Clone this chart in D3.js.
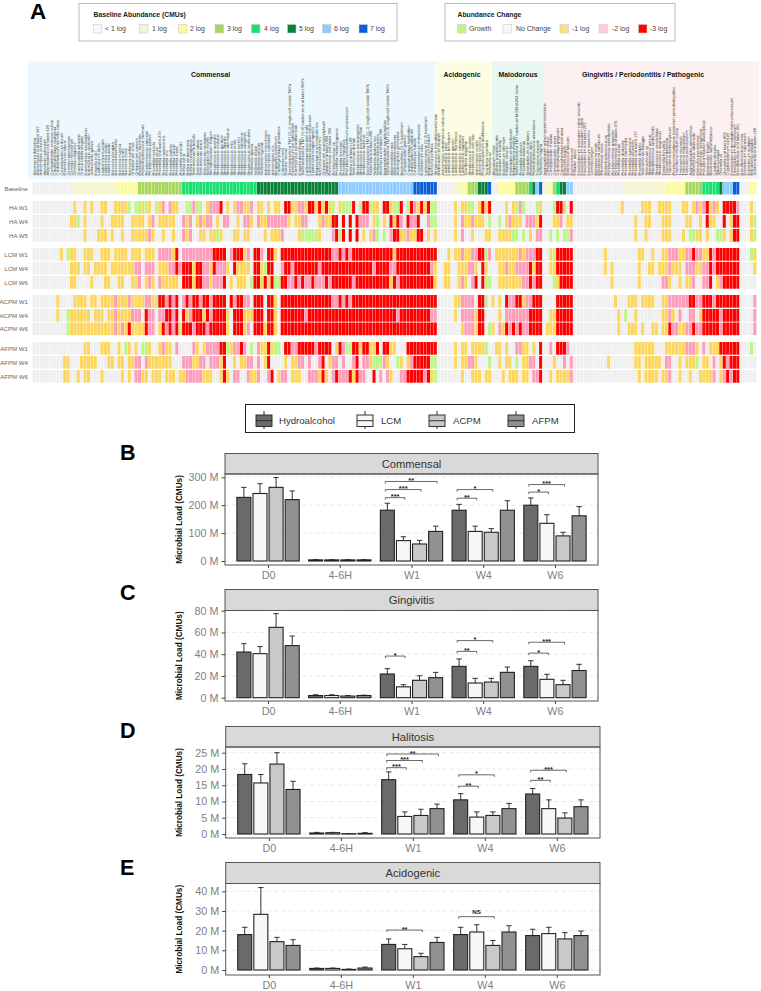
<!DOCTYPE html>
<meta charset="utf-8" />
<script src="https://d3js.org/d3.v7.min.js"></script>
<style>
  body { margin: 0; background: #fff; }
  text { font-family: "Liberation Sans", Arial, sans-serif; }
  .taxa text { text-rendering: geometricPrecision; }
</style>
<body>
<svg id="chart" width="761" height="991"></svg>
<script>
// ---- heatmap taxa, one list per group
const commensalTaxa = [
  "Abiotrophia defectiva","Actinomyces oral taxon 347","Actinomyces johnsonii","Atopobium parvulum","Alloprevotella oral taxon 429","Campylobacter concisus subsp","Capnocytophaga sputigena","Cardiobacterium hominis subsp","Corynebacterium durum","Eikenella corrodens",
  "Gemella haemolysans","Gemella morbillorum","Gemella sanguinis","Granulicatella adiacens","Granulicatella elegans","Haemophilus haemolyticus","Haemophilus sputorum","Johnsonella ignava","Kingella oralis","Lautropia mirabilis",
  "Leptotrichia buccalis","Leptotrichia shahii","Leptotrichia wadei","Neisseria elongata","Neisseria flavescens","Neisseria mucosa","Neisseria oralis","Neisseria sicca","Neisseria subflava","Oribacterium sinus",
  "Oribacterium parvum","Peptoniphilus lacrimalis","Peptostreptococcus stomatis","Porphyromonas catoniae","Porphyromonas pasteri","Prevotella histicola","Prevotella jejuni","Prevotella oral taxon 274","Prevotella nanceiensis","Prevotella oris",
  "Prevotella pallens","Prevotella salivae","Prevotella shahii","Prevotella veroralis","Rothia aeria","Rothia dentocariosa","Rothia mucilaginosa","Selenomonas artemidis","Selenomonas infelix","Selenomonas noxia",
  "Selenomonas sputigena","Solobacterium moorei","Stomatobaculum longum","Streptococcus australis","Streptococcus cristatus","Streptococcus gordonii","Streptococcus infantis","Streptococcus intermedius","Streptococcus mitis","Streptococcus oralis",
  "Streptococcus peroris","Streptococcus salivarius","Streptococcus sanguinis","Streptococcus vestibularis","Veillonella atypica","Veillonella dispar","Veillonella parvula","Veillonella rogosae","Actinomyces massiliensis","Actinomyces naeslundii",
  "Actinomyces oris","Bergeyella zoohelcum","Capnocytophaga granulosa","Catonella morbi","Dialister invisus","Saccharibacteria TM7 [G-1] single-cell isolate TM7a","Fusobacterium periodonticum","Haemophilus parainfluenzae","Kingella denitrificans","Saccharibacteria TM7 [G-5] bacterium oral taxon TM7c",
  "Lachnoanaerobaculum orale","Lachnoanaerobaculum saburreum","Leptotrichia hongkongensis","Megasphaera micronuciformis","Neisseria bacilliformis","Oribacterium asaccharolyticum","Ottowia oral taxon 894","Parvimonas oral taxon 393","Porphyromonas sp","Prevotella melaninogenica",
  "Prevotella loescheii","Prevotella maculosa","Pseudopropionibacterium propionicum","Rothia oral taxon 188","Selenomonas dianae","Streptococcus parasanguinis","Streptococcus pneumoniae","Streptococcus lactarius","Saccharibacteria TM7 [G-1] single-cell isolate TM7b","Tannerella oral taxon 286",
  "Veillonella denticariosi","Veillonella tobetsuensis","Abiotrophia oral taxon 389","Aggregatibacter paraphrophilus","Saccharibacteria TM7 [G-3] single-cell isolate TM7c","Alloprevotella rava","Alloprevotella tannerae","Anaeroglobus geminatus","Bacteroidetes [G-7] bacterium","Campylobacter gracilis",
  "Capnocytophaga leadbetteri","Cardiobacterium valvarum","Centipeda periodontii","Corynebacterium matruchotii","Eubacterium sulci","Lachnospiraceae [G-3] bacterium","Mogibacterium timidum","Neisseria perflava","Streptococcus pseudopneumoniae"
];
const acidogenicTaxa = [
  "Bifidobacterium dentium","Actinomyces odontolyticus subsp oral","Lactobacillus casei","Lactobacillus fermentum","Lactobacillus gasseri","Lactobacillus rhamnosus","Lactobacillus salivarius","Lactobacillus vaginalis","Scardovia wiggsiae","Streptococcus mutans",
  "Streptococcus sobrinus","Actinomyces israelii","Actinomyces viscosus","Propionibacterium acidifaciens","Scardovia inopinata","Veillonella sp"
];
const malodorousTaxa = [
  "Atopobium rimae","Dialister pneumosintes","Eubacterium brachy","Eubacterium infirmum","Filifactor villosus","Fretibacterium fastidiosum","Megasphaera elsdenii","Saccharibacteria TM7 bacterium MGEHA204 clone","Prevotella oulorum","Prevotella tannerae",
  "Solobacterium oral taxon","Peptoniphilus harei","Peptostreptococcus anaerobius","Treponema vincentii","Veillonella magna"
];
const pathogenTaxa = [
  "Aggregatibacter actinomycetemcomitans","Campylobacter rectus","Campylobacter showae","Campylobacter curvus","Capnocytophaga gingivalis","Capnocytophaga ochracea","Eikenella exigua","Enterococcus faecalis","Escherichia coli","Filifactor alocis",
  "Fusobacterium nucleatum subsp vincentii","Fusobacterium nucleatum subsp","Fusobacterium oral taxon 203","Fusobacterium naviforme","Gemella bergeri","Mycoplasma orale","Mycoplasma salivarium","Parvimonas micra","Peptostreptococcus sp","Porphyromonas endodontalis",
  "Porphyromonas gingivalis","Porphyromonas oral taxon 279","Prevotella buccae","Prevotella denticola","Prevotella intermedia","Prevotella nigrescens","Prevotella pleuritidis","Prevotella oral taxon 137","Prevotella dentalis","Selenomonas flueggei",
  "Selenomonas sp","Staphylococcus aureus","Staphylococcus epidermidis","Streptococcus constellatus","Streptococcus anginosus","Tannerella forsythia","Treponema denticola","Treponema lecithinolyticum","Porphyromonadaceae bacterium periodontopathic","Treponema medium subsp",
  "Treponema socranskii","Treponema maltophilum","Treponema pectinovorum","Aggregatibacter aphrophilus","Haemophilus influenzae","Klebsiella pneumoniae","Pseudomonas aeruginosa","Pseudoramibacter alactolyticus","Bacteroides fragilis","Bacteroides heparinolyticus",
  "Candida albicans","Slackia exigua","Olsenella uli","Olsenella oral taxon 809","Cryptobacterium curtum","Fusobacterium gonidiaformans propionicum","Fusobacterium necrophorum","Desulfobulbus oral taxon 041","Desulfomicrobium orale","Eubacterium saphenum",
  "Eubacterium nodatum","Mitsuokella jalaludinii","Johnsonella oral taxon 166"
];

// ---- heatmap rows, written as column runs "first-last:code", empty columns have no change
const baselineRow = "0-11:0,12-24:1,25-30:2,31-43:3,44-65:4,66-89:5,90-111:6,112-118:7,119-123:0,124-125:1,126-127:2,128-130:3,131-133:5,134:7,135-136:0,137-141:2,142-145:3,146:4,147:5,148:6,149:7,150-151:1,152:2,153:3,154:4,155-156:5,157-158:6,159-173:0,174-185:1,186-191:2,192-196:3,197-201:4,202:5,203-205:6,206-207:7,208-210:0,211-212:2";

const rowNames = ["HA W1","HA W4","HA W5","LCM W1","LCM W4","LCM W6","ACPM W1","ACPM W4","ACPM W6","AFPM W1","AFPM W4","AFPM W6"];
const haW1 = "12:a,15:a,17:a,20-21:a,24-27:a,28:g,30-31:g,32:a,33:g,34:a,36:g,37:a,38:b,40:b,41-42:a,45-46:g,47:b,48-49:g,51:a,52-54:b,55:c,57:a,59:a,60-61:b,62-63:a,64:b,66-67:a,69:a,71-72:a,74-75:c,76-77:a,78-79:b,80:a,81-82:c,83:a,84:c,85:a,86:c,87:a,88:g,90:a,91-93:g,94:c,96:g,97-98:c,99:g,100-101:a,103-104:c,105:a,106-107:g,108:c,110:g,111:c,112:b,113:a,114:c,115:a,116:c,117-118:g,124:a,126-127:a,128-129:g,131:a,132:c,133:a,134:c,139:a,141:a,142:g,143:b,144:g,148:g,149:a,153:g,154-155:c,156:a,158:c,173:a,179-181:a,184-187:a,191-192:a,194:a,195:b,196:a,197:b,198:c,199:a,200:b,201:a,203-206:c,207:b,211:a";
const haW4 = "11-12:a,13:g,15:a,20:a,23-26:a,29-32:a,34:a,35:b,37-41:a,44:b,45:a,46:b,48:a,49:b,50:a,51-52:b,54:a,56-57:b,60:a,62-63:b,64:a,66:b,67-68:a,69-74:b,75:a,77-78:a,79-80:b,84:a,85:b,86-87:a,88-89:c,91:c,93:c,95:c,96-98:b,100:a,101:g,103:a,105:c,106:a,107:c,108:b,110:c,111-112:b,113:c,116:b,117-118:g,124:a,126:b,127-128:a,129:b,130-132:a,134:g,137:g,139:a,140:b,141-143:a,145-147:b,148:a,149:c,153-154:a,155:b,157-158:a,177:a,180-181:a,185-187:a,192-193:a,196:a,198:c,199-200:a,203:c,205:a,206-207:c,211:a,212:g";
const haW5 = "15:a,19-21:a,23:a,26:a,29-33:a,34:b,35:a,38:a,41:a,44:b,45:a,46:b,49-50:a,52-53:a,54:g,55:a,59-60:a,62-63:a,68:a,70-72:a,73:b,78:a,79-83:g,84:a,88:b,89:c,90:g,91:c,93:c,95:c,97:a,99:a,100:b,101:g,103:g,105:b,106-107:c,108-109:a,110:b,111-112:a,113-114:c,116:a,118:a,124:a,126:b,129:a,133-134:a,137-140:a,141-142:g,144:g,146:a,148-149:b,152:g,154:g,156-157:g,158:b,177:a,180:a,185-187:a,191:a,193-194:g,195-196:a,198:a,201-202:g,203:a,205:a,206-207:c,211:a,212:g";
const lcmW1 = "8:a,10:g,11-12:a,15-17:a,20-22:a,24-27:a,29-31:a,33-35:a,37-40:b,41:a,42:c,44-52:b,53-56:c,58:b,59-61:c,62:a,63:b,65-66:c,67:b,69-70:c,71:a,73-87:c,88-89:b,90:c,91:b,92:c,93:b,94-105:c,106:a,107-118:c,122:a,124-125:a,126:b,127-128:a,129-130:b,131-132:c,133:g,134:b,136-142:a,143:b,144:a,145-147:b,148-149:c,152:a,153:g,154-158:c,168:a,178-179:a,182:a,185-186:a,187-189:b,190-191:a,192-193:b,194:c,195-196:b,197-198:a,199:c,200:b,201-207:c,211:g,212:a";
const lcmW4 = "11-13:a,15-16:a,18-21:a,23-29:a,30-31:b,33-35:b,37-39:a,40-41:b,42:c,43:b,44-46:c,47:a,48-49:c,50-51:b,52:a,53:c,54-56:b,57:a,59:c,60-62:a,63:a,65-66:c,67:a,68:g,69-70:c,73:b,74-75:c,76:b,77-83:c,84:b,85-99:c,100:b,101-104:c,105-106:b,107-116:c,117:b,118:a,121-122:a,125-127:a,128-129:b,130:a,132:c,133:a,137-138:a,139:b,140-141:a,142-145:b,146:c,147:a,148-149:c,152-153:a,154-158:c,168:a,170:a,178:a,181-182:a,184-186:a,187:b,188-190:a,192-194:b,195-196:a,197-198:b,199:c,200:b,201-207:c,212:a";
const lcmW6 = "11-12:a,17:a,21-22:a,25-26:a,29-30:a,31:b,33:a,34:b,35:a,37:b,38-42:a,44-46:c,47:a,48-49:c,50-51:b,52:a,53-55:b,56:c,58:a,60-62:a,64:g,65-66:c,67:a,68:c,69:a,70:c,71-72:g,73-74:c,75-76:b,77:c,78:b,79:c,80-81:b,82:c,83-85:b,86:c,87:b,88-93:c,94:b,95-104:c,105:a,106:c,107:b,108-117:c,118:a,121-122:a,125:a,126:b,127:a,129:b,130:c,132:c,133-134:g,137-143:a,144-145:b,146:c,147:b,148-149:c,153:g,154:a,155-158:c,170:a,178:a,185-186:b,187:a,190:a,192-193:a,194:b,197-198:b,199:c,201:a,202:b,203-207:c";
const acpmW1 = "7:a,12-15:a,17-18:a,20-23:a,24:b,25-27:a,28:b,29-32:a,33-34:b,35:a,36:g,37-38:c,39:b,40:c,41:b,42:c,44:b,45:c,46:b,47-48:c,49:b,50-51:c,52:b,53-56:c,58:c,59:b,60-61:c,62-63:b,65-67:c,69-70:c,71:a,73-87:c,88-89:b,90:c,91:b,92:c,93:b,94-118:c,124-125:a,126-129:b,131-132:c,133:g,135:a,137:a,139:c,140-141:b,142-143:c,144:a,145-146:b,147-149:c,154-158:c,171:a,175-177:a,179-182:a,185-186:a,187-192:b,193-194:c,195-196:b,197-199:c,200:b,201-207:c,212:b";
const acpmW4 = "7:a,10:g,11-16:a,18-20:a,22-23:a,24:b,25-28:a,29-31:b,33:c,34-35:b,37-38:b,39-40:c,41:b,42:c,44:c,45:a,46:b,47-49:c,50:a,51:c,52:b,53-56:c,57:a,59-61:c,62-64:a,65-67:c,69-70:c,71:a,73-79:c,80:b,81-106:c,107:b,108-116:c,117-118:b,124:a,126-129:b,130:a,131-132:c,137:a,139-145:b,146-149:c,152-153:a,154-158:c,172:a,174:g,177:a,185-186:a,187:b,188:a,190:b,193-194:b,196:a,197-201:c,202:b,203-207:c,212:b";
const acpmW6 = "10:g,11-23:a,24:b,25:a,26:b,27:a,28:c,29-32:a,33:c,34-35:b,37:a,38:c,39:b,40:c,41:b,42:c,43:g,44-46:c,47:b,48-49:c,50:c,51:b,52:c,53-56:c,57:a,59-61:c,62:a,63:b,65-67:c,68:a,69-70:c,71:a,73-118:c,126:a,127-129:b,130:a,131-132:c,134:g,135:a,137:b,138:a,139:c,140:b,141:c,142:b,143:c,144-145:b,146-149:c,151-153:a,154-158:c,172:a,175-177:a,179:a,182-183:a,185-186:a,187:c,188-189:b,190-191:a,192-193:b,194:c,195-196:b,197-201:c,202:b,203-207:c,212:b";
const afpmW1 = "15-16:a,20-22:a,25:a,27:g,28:a,30:a,32-33:g,34:a,37:a,38:b,39-40:a,42:b,47:b,48:a,50:a,51-54:b,55-56:c,57:g,58:a,59-60:b,61:c,62:b,64:g,66:b,67-68:a,69:c,70:a,71-72:g,74-75:c,76-77:b,78-82:c,83:b,84-87:c,89:a,90:c,91:b,92-93:g,94-95:c,96:a,97-98:c,99-100:a,101:c,103-104:c,105-106:a,110-118:c,124:a,126-127:a,129-132:a,133:g,136-137:a,139:a,142-143:b,144-145:a,147:a,149:c,152:b,154-156:c,157:b,177-182:a,186-191:a,192-194:b,195:a,197:b,199-201:a,202-207:c,211:g";
const afpmW4 = "9-10:a,14-18:a,22-23:a,25-26:a,28-29:a,30-31:b,33:b,34-40:a,44-46:b,47-48:a,49-50:b,52-54:b,55:a,56:c,59:a,61-62:a,63-64:b,66:b,68:a,69:c,74:a,76-77:a,78-79:b,81:b,84:b,85:c,87:a,88-89:b,91:b,94:b,95:c,97-98:b,99:a,100-102:g,103:b,104:a,107:g,108:a,110:a,111:b,112-116:c,117-118:g,124:a,126-127:a,128-129:b,130:a,134:g,137:a,139-140:a,142:g,144-145:a,146-147:b,149:c,153:a,156:b,158:b,169:a,177-178:a,180-184:a,186-187:b,190:a,192-194:a,195:g,197-198:a,200:b,202:a,203:c,204:b,205-207:c";
const afpmW6 = "9-10:a,13:a,15-16:a,20:a,26:a,28:a,30-31:b,32-33:a,35-37:a,39-41:a,43-44:a,45-49:b,50-52:a,55:a,56:c,57:a,59-60:b,63:b,64-65:a,66:b,69:b,70:c,72:a,73-74:b,76-78:a,81-83:b,84:a,85:c,86:a,88:b,89:c,90-92:b,93:c,94:a,95:c,96-97:b,100:c,102:b,104:b,105:a,108-109:b,110-114:c,115:b,116:c,117:a,118:g,126:a,129-131:a,133-134:a,138:a,140-142:a,144-145:a,147-148:b,149:c,152:a,154-157:a,158:b,178:a,180-183:a,185-186:a,187:b,190:a,193:a,196-199:a,200:b,202:a,203:b,204:c,205:b,206-207:c";
const changeRows = [haW1, haW4, haW5, lcmW1, lcmW4, lcmW6, acpmW1, acpmW4, acpmW6, afpmW1, afpmW4, afpmW6];

// ---- legends
const baselineLabels = ["< 1 log","1 log","2 log","3 log","4 log","5 log","6 log","7 log"];
const baselineColors = ["#efefef","#f3f5cf","#fbfd9d","#a9d65e","#17df70","#0c7f3d","#8ccbff","#0b5ed6"];
const changeLabels = ["Growth","No Change","-1 log","-2 log","-3 log"];
const changeKeys = ["g",".","a","b","c"];
const changeColors = ["#bcf58a","#efefef","#fdd65f","#fd9dba","#ff0000"];

// ---- bar panels, means and top of error bar per timepoint (CMUs, millions)
const timepoints = ["D0","4-6H","W1","W4","W6"];
const products = ["Hydroalcohol","LCM","ACPM","AFPM"];
const productColors = ["#6a6a6a","#f7f7f7","#c9c9c9","#919191"];

const commensalMean = [[228,4,182,182,200],[242,4,73,106,135],[264,4,61,103,90],[220,4,106,182,162]];
const commensalUpper = [[264,5,207,203,226],[277,5,87,125,166],[299,5,74,116,103],[251,5,125,216,195]];
const gingivitisMean = [[42,2,21.8,28.8,28.8],[40.5,2,10,13.5,16.9],[64.7,1.5,16,14.4,12],[47.9,2,18.4,23.3,25]];
const gingivitisUpper = [[49.7,2.7,26.7,35.6,34],[47,2.7,12,17.8,21.5],[77.3,2,20.2,17.8,16],[56.7,2.3,23.3,28.2,30.7]];
const halitosisMean = [[18.3,0.3,16.7,10.5,12.3],[15.7,0.4,5.4,5.2,7.8],[21.5,0.1,5.7,5.7,4.9],[13.7,0.2,7.8,7.8,8.4]];
const halitosisUpper = [[21.6,0.5,19.1,12.4,14],[18.3,0.5,6.8,6.8,10.5],[25,0.1,7.6,6.8,6.5],[16.2,0.4,9.2,9.4,10.5]];
const acidogenicMean = [[18,0.8,13,18,17.5],[28.3,0.8,10.8,19.3,18.5],[14.4,0.3,6.8,12.5,15.8],[12.5,1,14,19.3,17.5]];
const acidogenicUpper = [[21.7,1,15.8,21.7,20.7],[41.9,1,13,23,21.7],[16.6,0.5,8.5,15,19],[15.4,1.5,16.6,22.5,19.8]];

// significance brackets: timepoint, second bar index, height in axis units, label
const commensalSig = [["W1",1,227,"***"],["W1",2,256,"***"],["W1",3,285,"**"],["W4",1,225,"**"],["W4",2,256,"*"],["W6",1,247,"*"],["W6",2,274,"***"]];
const gingivitisSig = [["W1",1,38.3,"*"],["W4",1,42.6,"**"],["W4",2,52.5,"*"],["W6",1,41,"*"],["W6",2,51,"***"]];
const halitosisSig = [["W1",1,20.4,"***"],["W1",2,22.6,"***"],["W1",3,24.6,"**"],["W4",1,14.7,"**"],["W4",2,18.2,"*"],["W6",1,16.5,"**"],["W6",2,19.6,"***"]];
const acidogenicSig = [["W1",2,20.3,"**"],["W4",2,27.1,"NS"]];

const commensalTicks = [0,100,200,300];
const gingivitisTicks = [0,20,40,60,80];
const halitosisTicks = [0,5,10,15,20,25];
const acidogenicTicks = [0,10,20,30,40];

const svg = d3.select("#chart");

// ---- panel A
const allTaxa = [...commensalTaxa, ...acidogenicTaxa, ...malodorousTaxa, ...pathogenTaxa];
const x = d3.scaleBand().domain(d3.range(213)).range([32.5, 756.7]);

function expand(spec) {
  // turn "3-5:a,9:b" into one code per column
  const codes = d3.range(213).map(() => ".");
  spec.split(",").forEach((run) => {
    const [cols, code] = run.split(":");
    const [a, b] = cols.split("-").map(Number);
    for (let i = a; i <= (b === undefined ? a : b); i++) codes[i] = code;
  });
  return codes;
}

svg.append("text").attr("x", 30).attr("y", 19).attr("font-size", 22.5).attr("font-weight", "bold").text("A");

// group background bands
const groups = [
  { name: "Commensal", fill: "#ecf8fd", left: 28, right: 435, mid: 210.6 },
  { name: "Acidogenic", fill: "#fdfde4", left: 435, right: 492, mid: 462 },
  { name: "Malodorous", fill: "#e8f7f2", left: 492, right: 543, mid: 518 },
  { name: "Gingivitis / Periodontitis / Pathogenic", fill: "#fdf0f0", left: 543, right: 759, mid: 643 },
];
groups.forEach((g) => {
  svg.append("rect").attr("x", g.left).attr("y", 61).attr("width", g.right - g.left).attr("height", 118).attr("fill", g.fill);
  svg.append("text")
    .attr("x", g.mid)
    .attr("y", 77)
    .attr("text-anchor", "middle")
    .attr("font-size", 6.9)
    .attr("font-weight", "bold")
    .attr("fill", "#111")
    .text(g.name);
});

// taxa names, rotated
svg.append("g")
  .attr("class", "taxa")
  .selectAll("text")
  .data(allTaxa)
  .enter()
  .append("text")
  .attr("transform", (d, i) => `translate(${x(i) + x.bandwidth() / 2 + 1.4},175.5) rotate(-90)`)
  .attr("font-size", 4)
  .attr("fill", "#3c3c3c")
  .text((d) => d);

// baseline strip
const baselineCodes = expand(baselineRow);
svg.append("g")
  .selectAll("rect")
  .data(baselineCodes)
  .enter()
  .append("rect")
  .attr("x", (d, i) => x(i))
  .attr("y", 182)
  .attr("width", x.bandwidth() - 0.3)
  .attr("height", 12.5)
  .attr("fill", (d) => baselineColors[+d]);
svg.append("text").attr("x", 28).attr("y", 190.5).attr("text-anchor", "end").attr("font-size", 6.1).attr("fill", "#666").text("Baseline");

// change rows: four treatment blocks of three rows
const rowTops = [201, 215, 229, 248, 262, 276, 295, 309, 322.5, 342, 356, 370];
const changeColor = d3.scaleOrdinal().domain(changeKeys).range(changeColors);
changeRows.forEach((spec, r) => {
  svg.append("g")
    .selectAll("rect")
    .data(expand(spec))
    .enter()
    .append("rect")
    .attr("x", (d, i) => x(i))
    .attr("y", rowTops[r])
    .attr("width", x.bandwidth() - 0.3)
    .attr("height", 12.7)
    .attr("fill", (d) => changeColor(d));
  svg.append("text")
    .attr("x", 28)
    .attr("y", rowTops[r] + 8.5)
    .attr("text-anchor", "end")
    .attr("font-size", 6.1)
    .attr("fill", "#666")
    .text(rowNames[r]);
});

// ---- legend boxes on top of panel A
function heatLegend(boxX, boxW, title, titleX, labels, colors, swatchX, labelX) {
  svg.append("rect").attr("x", boxX).attr("y", 3.5).attr("width", boxW).attr("height", 37.5).attr("fill", "#fff").attr("stroke", "#bbb");
  svg.append("text").attr("x", titleX).attr("y", 16.5).attr("font-size", 6.8).attr("font-weight", "bold").attr("fill", "#222").text(title);
  labels.forEach((l, i) => {
    svg.append("rect").attr("x", swatchX[i]).attr("y", 24.5).attr("width", 8.5).attr("height", 8.5)
      .attr("fill", colors[i]).attr("stroke", "#ccc").attr("stroke-width", 0.6);
    svg.append("text").attr("x", labelX[i]).attr("y", 30.8).attr("font-size", 6.9).attr("fill", "#444").text(l);
  });
}
heatLegend(79, 318, "Baseline Abundance (CMUs)", 93.5,
  baselineLabels, ["#f7f7f7", ...baselineColors.slice(1)],
  [93.5,139.5,178.5,215,251.5,287.5,322.5,359], [105,152,190,227,264,299,334,370]);
heatLegend(445, 230, "Abundance Change", 457.5,
  changeLabels, ["#bcf58a","#f7f7f7","#ffdd80","#ffcbd8","#ff0000"],
  [457.5,503,560,599,638.5], [469,516,572,612,650]);

// ---- product legend
svg.append("rect").attr("x", 245.5).attr("y", 404.5).attr("width", 329).attr("height", 28).attr("fill", "#fff").attr("stroke", "#222");
const keyX = [256, 357, 429, 508];
const keyLabelX = [279, 381, 453, 532];
products.forEach((p, i) => {
  const k = svg.append("g").attr("stroke", "#333");
  k.append("line").attr("x1", keyX[i] + 8).attr("x2", keyX[i] + 8).attr("y1", 411).attr("y2", 429);
  k.append("rect").attr("x", keyX[i]).attr("y", 415).attr("width", 16).attr("height", 11.5).attr("fill", productColors[i]);
  k.append("line").attr("x1", keyX[i]).attr("x2", keyX[i] + 16).attr("y1", 420.7).attr("y2", 420.7);
  svg.append("text").attr("x", keyLabelX[i]).attr("y", 424).attr("font-size", 9.6).attr("fill", "#333").text(p);
});

// ---- bar panels
const panels = [
  { letter: "B", letterY: 460, title: "Commensal", left: 225, right: 598, stripTop: 453.5, stripBottom: 474, bottom: 565,
    domain: [0, 300], range: [561, 477.3], ticks: commensalTicks, mean: commensalMean, upper: commensalUpper, sig: commensalSig },
  { letter: "C", letterY: 600, title: "Gingivitis", left: 225, right: 598, stripTop: 589.5, stripBottom: 610.5, bottom: 701,
    domain: [0, 80], range: [697.7, 610.7], ticks: gingivitisTicks, mean: gingivitisMean, upper: gingivitisUpper, sig: gingivitisSig },
  { letter: "D", letterY: 738, title: "Halitosis", left: 225.7, right: 600, stripTop: 726.5, stripBottom: 747, bottom: 838,
    domain: [0, 25], range: [834, 752.7], ticks: halitosisTicks, mean: halitosisMean, upper: halitosisUpper, sig: halitosisSig },
  { letter: "E", letterY: 875, title: "Acidogenic", left: 225.7, right: 600, stripTop: 862.5, stripBottom: 883.5, bottom: 975,
    domain: [0, 40], range: [970, 891.3], ticks: acidogenicTicks, mean: acidogenicMean, upper: acidogenicUpper, sig: acidogenicSig },
];

function drawPanel(p) {
  svg.append("text").attr("x", 120).attr("y", p.letterY).attr("font-size", 21.5).attr("font-weight", "bold").text(p.letter);

  const xTime = d3.scalePoint().domain(timepoints).range([p.left, p.right]).padding(0.6);
  const y = d3.scaleLinear().domain(p.domain).range(p.range);
  const dodge = d3.scaleBand().domain(d3.range(4)).range([-32.2, 32.2]).paddingInner(0.13).paddingOuter(0.065);

  // panel background and dashed grid
  svg.append("rect").attr("x", p.left).attr("y", p.stripBottom).attr("width", p.right - p.left).attr("height", p.bottom - p.stripBottom).attr("fill", "#fff");
  svg.append("g")
    .selectAll("line")
    .data(p.ticks)
    .enter()
    .append("line")
    .attr("x1", p.left)
    .attr("x2", p.right)
    .attr("y1", (d) => y(d))
    .attr("y2", (d) => y(d))
    .attr("stroke", "#e8e8e8")
    .attr("stroke-dasharray", "4,3");

  // bars and upper error bars
  products.forEach((prod, s) => {
    const g = svg.append("g");
    const rows = timepoints.map((t, i) => ({ t: t, mean: p.mean[s][i], upper: p.upper[s][i] }));
    const cx = (d) => xTime(d.t) + dodge(s) + dodge.bandwidth() / 2;
    g.selectAll("line.stem").data(rows).enter().append("line").attr("class", "stem")
      .attr("x1", cx).attr("x2", cx).attr("y1", (d) => y(d.mean)).attr("y2", (d) => y(d.upper)).attr("stroke", "#333");
    g.selectAll("line.cap").data(rows).enter().append("line").attr("class", "cap")
      .attr("x1", (d) => cx(d) - 2.7).attr("x2", (d) => cx(d) + 2.7).attr("y1", (d) => y(d.upper)).attr("y2", (d) => y(d.upper)).attr("stroke", "#333");
    g.selectAll("rect").data(rows).enter().append("rect")
      .attr("x", (d) => xTime(d.t) + dodge(s))
      .attr("y", (d) => y(d.mean))
      .attr("width", dodge.bandwidth())
      .attr("height", (d) => y(0) - y(d.mean))
      .attr("fill", productColors[s])
      .attr("stroke", "#222")
      .attr("stroke-width", 1.1);
  });

  // significance brackets, always from the first bar of the timepoint
  const barX = (t, s) => xTime(t) + dodge(s) + dodge.bandwidth() / 2;
  p.sig.forEach(([t, s, v, label]) => {
    const x0 = barX(t, 0) - 2;
    const x1 = barX(t, s) + 1.5;
    const yy = y(v);
    svg.append("path")
      .attr("d", `M${x0},${yy + 2}V${yy}H${x1}V${yy + 2}`)
      .attr("fill", "none")
      .attr("stroke", "#444")
      .attr("stroke-width", 0.8);
    svg.append("text")
      .attr("x", (x0 + x1) / 2)
      .attr("y", label === "NS" ? yy - 2.5 : yy + 1.5)
      .attr("text-anchor", "middle")
      .attr("font-size", label === "NS" ? 6.2 : 7.5)
      .attr("font-weight", "bold")
      .attr("fill", "#222")
      .text(label);
  });

  // strip and frame
  svg.append("rect").attr("x", p.left).attr("y", p.stripTop).attr("width", p.right - p.left).attr("height", p.stripBottom - p.stripTop)
    .attr("fill", "#d9d9d9").attr("stroke", "#555");
  svg.append("text").attr("x", (p.left + p.right) / 2).attr("y", (p.stripTop + p.stripBottom) / 2 + 3.8)
    .attr("text-anchor", "middle").attr("font-size", 11.2).attr("fill", "#333").text(p.title);
  svg.append("rect").attr("x", p.left).attr("y", p.stripBottom).attr("width", p.right - p.left).attr("height", p.bottom - p.stripBottom)
    .attr("fill", "none").attr("stroke", "#555");

  // axes
  const yAxis = svg.append("g").attr("transform", `translate(${p.left},0)`)
    .call(d3.axisLeft(y).tickValues(p.ticks).tickSize(3.5).tickFormat((d) => `${d} M`));
  yAxis.select(".domain").remove();
  yAxis.selectAll("text").attr("font-size", 10.8).attr("fill", "#808080").attr("font-family", "Liberation Sans");
  yAxis.selectAll("line").attr("stroke", "#444");

  const xAxis = svg.append("g").attr("transform", `translate(0,${p.bottom})`)
    .call(d3.axisBottom(xTime).tickSize(3));
  xAxis.select(".domain").remove();
  xAxis.selectAll("text").attr("font-size", 10.8).attr("fill", "#808080").attr("font-family", "Liberation Sans");
  xAxis.selectAll("line").attr("stroke", "#444");

  svg.append("text")
    .attr("transform", `translate(182,${(p.stripBottom + p.bottom) / 2}) rotate(-90)`)
    .attr("text-anchor", "middle")
    .attr("font-size", 8.2)
    .attr("font-weight", "bold")
    .attr("fill", "#111")
    .text("Microbial Load (CMUs)");
}
panels.forEach(drawPanel);
</script>
</body>
